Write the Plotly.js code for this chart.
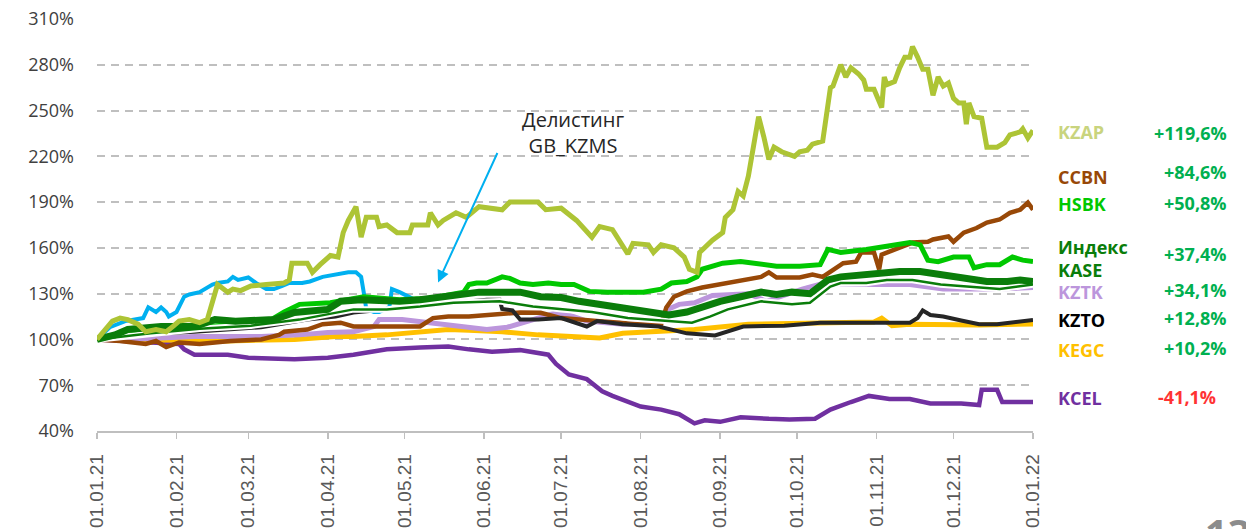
<!DOCTYPE html>
<html>
<head>
<meta charset="utf-8">
<script src="https://cdn.plot.ly/plotly-3.0.1.min.js"></script>
<style>html,body{margin:0;padding:0;background:#fff;}#chart{width:1246px;height:529px;}</style>
</head>
<body>
<div id="chart"></div>
<script>
// Day offsets from 01.01.2021 and values (% of start level)
const kzapDays = [0,6,9,12,16,19,23,27,30,32,36,40,43,45,47,51,53,56,60,66,73,75,76,82,84,87,91,94,96,98,101,103,105,109,110,113,117,122,123,129,130,133,135,140,144,149,158,161,172,175,181,187,193,196,201,207,209,215,217,220,225,229,231,234,235,240,244,245,248,250,252,254,258,260,262,264,267,272,274,277,279,283,285,286,287,290,292,294,297,299,300,303,306,307,308,311,313,315,317,318,320,322,324,326,328,330,332,334,336,338,339,340,342,345,347,351,354,356,360,361,363,365];
const kzapVals = [100,112,114,113,110,105,106.5,105,109,112,113,111,113,124,136,131,133,132,135,136,137,139,150,150,144,149,155,154,170,178,187,167,180,180,174,175,170,170,175,175,183,175,178,183,180,187,185,190,190,185,186,178,167,174,172,156,163,162,157,162,160,154,146,144,157,165,170,180,185,197,194,207,246,233,218,226,223,220,223,224,228,230,253,265,266,280,272,278,274,270,264,264,252,272,267,269,278,285,285,292,285,277,277,260,272,266,268,258,255,255,241,255,246,245,226,226,229,234,236,238,232,237];

const kzmsDays = [0,5,11,15,18,20,23,25,27,28,31,34,36,40,45,47,51,53,55,59,62,66,69,72,75,80,83,88,94,98,101,103,104,105,108,110,114,115,118,122,124,128];
const kzmsVals = [100,108,112,113,114,121,118,121,118,115,118,128,129.5,131,136,137,138,141,139,140.6,137,133,133,135,137,137,138,141,142.6,144,144,141,131,120,118,118,121,133,131,128,126,126];

const hsbkDays = [0,13,25,40,56,67,73,79,91,104,118,130,143,145,148,152,158,161,165,170,176,181,186,190,192,199,207,213,220,224,230,234,236,244,251,259,265,274,282,285,290,300,310,317,321,324,328,334,338,340,342,347,352,357,361,365];
const hsbkVals = [100,103,106,108,110,112,118,123,124,128,126,127,131,136,137,137,141,140,137,136,137,136,136,133,131.5,131,131,131,133,137,138,141,146,150,151,149,148,148,149,159,157,159,162,163.5,162,152,151,154,154,154,147,149,149,154,152,151];

const ccbnDays = [0,9,19,23,27,32,40,52,64,71,73,82,88,95,100,126,131,137,145,152,165,173,181,196,212,220,222,225,230,236,243,251,259,262,265,274,279,283,291,296,298,303,305,306,309,313,318,324,326,332,334,338,343,347,352,356,360,363,365];
const ccbnVals = [100,99,97,99,95,98,97,99,100,103,105,106.5,110,111,108.5,108.5,114,115,115,116,117.7,117.5,114,112,110,110,121,128,131.5,134,136,138,141,144,140.6,140.6,142.6,141,150,151,157,157,146,155.6,157.6,160,163.5,164,165.5,167.5,164,170,173,176.6,178.6,183,185,189.7,185];

const kaseDays = [0,7,12,25,38,46,54,62,69,77,90,95,103,110,118,126,134,142,149,157,165,173,181,188,196,204,212,220,223,230,235,243,251,259,265,271,278,285,290,300,313,321,329,337,342,347,355,360,365];
const kaseVals = [100,103,106.5,108.5,108.5,113,112,112,113,117.7,119.7,125,126,125.5,125,126,128,129.5,131,131,131,128,127.5,125,123,121,119.7,117.7,116,118,121,125,128,131,129.5,131,130,139,141,142.6,144.5,144.5,142.6,140.6,139,138,138,139,138];

const kase2Days = [0,21,40,60,79,100,113,126,139,157,170,181,193,207,223,232,239,246,259,271,278,286,290,300,308,318,329,339,352,365];
const kase2Vals = [100,104,107,109,113,119.7,119.7,121.6,124,125,121.6,119.7,118,114,112,111,115,119.7,125,123,124,134.7,137,137,139,139,136,134.7,133,136];

const kztkDays = [0,12,25,38,64,79,90,100,108,110,119,130,142,152,160,168,178,184,191,205,220,223,227,233,240,254,261,275,283,303,317,330,351,365];
const kztkVals = [100,100,101,102,102,103,104.6,105,108.5,113,113,111,108.5,106.5,108,112,117,116,112,110,111,120,123,124,128.8,130,125,133,136.7,136,136,133,133,134];

const kztoDays = [0,12,38,64,82,93,100,113,126,139,152,157,158,162,165,172,181,191,195,205,219,230,241,252,268,282,303,317,320,322,325,330,337,344,351,365];
const kztoVals = [100,103,105,108,113,115,117.7,119.7,121.6,124,126,126,120,119,113,113,114,108.5,112,110,108.5,104,102.6,108.5,109,111,111,111,114,119,116,115,112.4,110,110,112.8];

const kegcDays = [0,12,51,77,93,100,113,126,137,145,158,172,181,196,205,233,254,289,303,306,310,317,344,365];
const kegcVals = [100,100,99,100,102,102,103,104.6,106.5,106,105,103,102,101,104,106.5,110,111,111.5,114,109,110,109.5,110.2];

const kcelDays = [0,19,32,34,38,51,59,77,90,100,113,126,137,145,154,165,176,179,184,191,197,201,208,212,220,227,233,237,243,251,262,270,280,286,294,301,309,317,325,337,344,345,351,353,365];
const kcelVals = [100,98,97,93.5,90,90,88,87,88,90,93.5,94.8,95.4,93.5,92,93,90,84,77,74,66,63,59,56,54,51,45,47,46,49,48,47.6,48,54,59,63,61,61,58,58,57,67,67,59,59];

const labelNames = ['KZAP','CCBN','HSBK','Индекс<br>KASE','KZTK','KZTO','KEGC','KCEL'];
const labelChanges = ['+119,6%','+84,6%','+50,8%','+37,4%','+34,1%','+12,8%','+10,2%','-41,1%'];
const noteText = 'Делистинг<br>GB_KZMS';
const pageNumber = '13';

const toDate = d => new Date(Date.UTC(2021,0,1) + d*86400000).toISOString().slice(0,10);
const mk = (days, vals, color, width) => ({
  x: days.map(toDate), y: vals, type: 'scatter', mode: 'lines',
  line: {color: color, width: width, shape: 'linear'}, hoverinfo: 'skip', showlegend: false
});

const traces = [
  mk(kcelDays, kcelVals, '#7030A0', 4.5),
  mk(kegcDays, kegcVals, '#FFC000', 5),
  mk(kztkDays, kztkVals, '#BC96DC', 5),
  mk(ccbnDays, ccbnVals, '#984807', 4.5),
  mk(kztoDays, kztoVals, '#262626', 4),
  mk(kzmsDays, kzmsVals, '#00B0F0', 4),
  mk(hsbkDays, hsbkVals, '#00C800', 5),
  mk(kase2Days, kase2Vals, '#FFFFFF', 6.5),
  mk(kase2Days, kase2Vals, '#0A7D0A', 2.5),
  mk(kaseDays, kaseVals, '#0A7D0A', 7),
  mk(kzapDays, kzapVals, '#ADC435', 5)
];

const plotL = 97, plotR = 1033, plotT = 19, plotB = 431;
const pw = plotR - plotL, ph = plotB - plotT;
const px = x => (x - plotL) / pw;
const py = y => (plotB - y) / ph;

const nameColors = ['#C9D47E','#984807','#00C800','#0A7D0A','#BC96DC','#000000','#FFC000','#7030A0'];
const nameY = [132,177,204,258,292,320,350,398];
const valY = [133,172,203,254,290,318,348,397];

const annotations = [];
labelNames.forEach((t,i) => {
  annotations.push({xref:'paper', yref:'paper', x: px(1056), y: py(nameY[i]), xanchor:'left', yanchor:'middle',
    text: '<b>'+t+'</b>', showarrow:false, align:'left',
    font:{family:'Open Sans', size:18, color:nameColors[i]}});
});
labelChanges.forEach((t,i) => {
  const neg = t.charAt(0) === '-';
  annotations.push({xref:'paper', yref:'paper', x: px(neg ? 1218 : 1229), y: py(valY[i]), xanchor:'right', yanchor:'middle',
    text: '<b>'+t+'</b>', showarrow:false,
    font:{family:'Open Sans', size:18, color: neg ? '#FF3333' : '#00B050'}});
});
annotations.push({xref:'paper', yref:'paper', x: px(573), y: py(132), xanchor:'center', yanchor:'middle',
  text: noteText, showarrow:false, align:'center',
  font:{family:'Open Sans', size:20, color:'#262626'}});
annotations.push({xref:'x', yref:'y', x: toDate(133), y: 137.3, ax: 60, ay: -131,
  text:'', showarrow:true, arrowhead:2, arrowsize:1.2, arrowwidth:2, arrowcolor:'#00B0F0'});
annotations.push({xref:'paper', yref:'paper', x: px(1203), y: py(503), xanchor:'left', yanchor:'top',
  text:'<b>'+pageNumber+'</b>', showarrow:false,
  font:{family:'Open Sans', size:40, color:'#8C8C8C'}});

const layout = {
  width: 1246, height: 529,
  margin: {l: plotL, r: 1246 - plotR, t: plotT, b: 529 - plotB},
  paper_bgcolor: '#FFFFFF', plot_bgcolor: '#FFFFFF',
  showlegend: false,
  xaxis: {
    type: 'date', range: ['2021-01-01','2022-01-01'],
    tick0: '2021-01-01', dtick: 'M1', tickformat: '%d.%m.%y',
    tickangle: -90, ticks: 'outside', ticklen: 6, tickwidth: 1.5, tickcolor: '#BFBFBF',
    showline: true, linecolor: '#BFBFBF', linewidth: 1.5,
    showgrid: false, zeroline: false, ticklabelstandoff: 8,
    tickfont: {family: 'Liberation Sans', size: 19, color: '#595959'}
  },
  yaxis: {
    range: [40, 310], tick0: 40, dtick: 30, ticksuffix: '%',
    showgrid: true, gridcolor: '#BFBFBF', gridwidth: 2, griddash: '8px,6px',
    zeroline: false, showline: false, ticks: '', ticklabelstandoff: 22,
    tickfont: {family: 'Open Sans', size: 18, color: '#404040'}
  },
  annotations: annotations
};

Plotly.newPlot('chart', traces, layout, {staticPlot: true, displayModeBar: false});
</script>
</body>
</html>
